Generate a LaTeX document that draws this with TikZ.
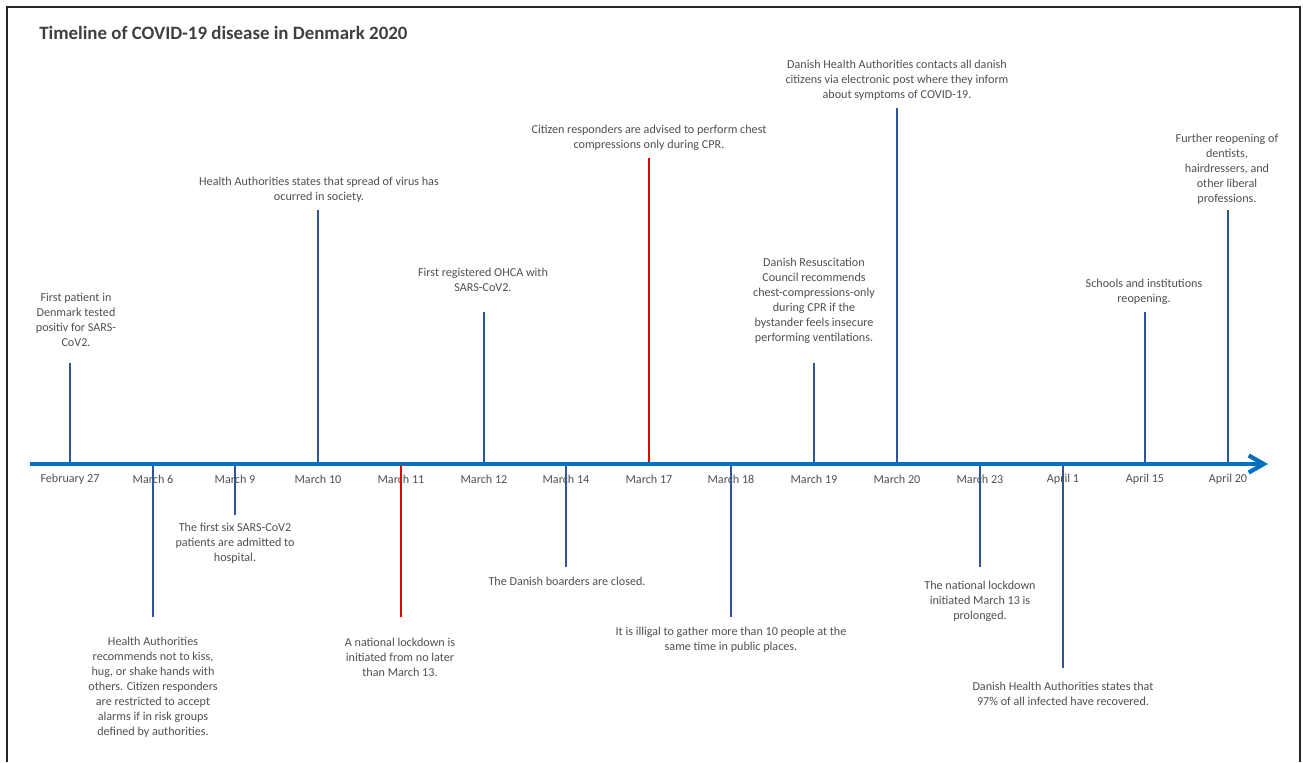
\documentclass[tikz,border=0pt]{standalone}
\usepackage{fontspec}
\setmainfont{Carlito}
\usepackage{xcolor}
\usetikzlibrary{arrows.meta}
\definecolor{axisblue}{RGB}{0,112,192}
\definecolor{stemblue}{RGB}{47,85,151}
\definecolor{txtgray}{RGB}{80,80,80}
\definecolor{titlegray}{RGB}{64,64,64}
\definecolor{framegray}{RGB}{38,38,38}
\tikzset{
  evt/.style={align=center, text=txtgray, inner sep=0pt, font=\fontsize{6.9}{8.5}\selectfont},
  datelbl/.style={text=txtgray, inner sep=0pt, font=\fontsize{6.9}{8}\selectfont},
  stem/.style={stemblue, line width=1.1pt},
  redstem/.style={red!90!black, line width=1.1pt},
}

\begin{document}
\begin{tikzpicture}[x=0.02cm,y=-0.02cm]
\useasboundingbox (0,0) rectangle (1303,762);
\fill[white] (0,0) rectangle (1303,762);
\draw[framegray, line width=1.3pt] (7,762) -- (7,7) -- (1300,7) -- (1300,762);
\node[anchor=west, text=titlegray, inner sep=0pt, font=\fontsize{10.75}{12}\bfseries\selectfont] (title) at (39,33) {Timeline of COVID-19 disease in Denmark 2020};

% dates under the axis
\node[datelbl] (feb27d) at (70,479) {February 27};
\node[datelbl] (mar6d) at (153,479) {March 6};
\node[datelbl] (mar9d) at (235,479) {March 9};
\node[datelbl] (mar10d) at (318,479) {March 10};
\node[datelbl] (mar11d) at (401,479) {March 11};
\node[datelbl] (mar12d) at (484,479) {March 12};
\node[datelbl] (mar14d) at (566,479) {March 14};
\node[datelbl] (mar17d) at (649,479) {March 17};
\node[datelbl] (mar18d) at (731,479) {March 18};
\node[datelbl] (mar19d) at (814,479) {March 19};
\node[datelbl] (mar20d) at (897,479) {March 20};
\node[datelbl] (mar23d) at (980,479) {March 23};
\node[datelbl] (apr1d) at (1063,479) {April 1};
\node[datelbl] (apr15d) at (1145,479) {April 15};
\node[datelbl] (apr20d) at (1228,479) {April 20};

% stems
\coordinate (feb27) at (70,464);  \coordinate (feb27e) at (70,363);
\coordinate (mar6) at (153,464);  \coordinate (mar6e) at (153,617);
\coordinate (mar9) at (235,464);  \coordinate (mar9e) at (235,515);
\coordinate (mar10) at (318,464); \coordinate (mar10e) at (318,210);
\coordinate (mar11) at (401,464); \coordinate (mar11e) at (401,617);
\coordinate (mar12) at (484,464); \coordinate (mar12e) at (484,312);
\coordinate (mar14) at (566,464); \coordinate (mar14e) at (566,567);
\coordinate (mar17) at (649,464); \coordinate (mar17e) at (649,158);
\coordinate (mar18) at (731,464); \coordinate (mar18e) at (731,617);
\coordinate (mar19) at (814,464); \coordinate (mar19e) at (814,363);
\coordinate (mar20) at (897,464); \coordinate (mar20e) at (897,108);
\coordinate (mar23) at (980,464); \coordinate (mar23e) at (980,567);
\coordinate (apr1) at (1063,464); \coordinate (apr1e) at (1063,668);
\coordinate (apr15) at (1145,464); \coordinate (apr15e) at (1145,312);
\coordinate (apr20) at (1228,464); \coordinate (apr20e) at (1228,210);
\draw[stem] (feb27) -- (feb27e);
\draw[stem] (mar6) -- (mar6e);
\draw[stem] (mar9) -- (mar9e);
\draw[stem] (mar10) -- (mar10e);
\draw[redstem] (mar11) -- (mar11e);
\draw[stem] (mar12) -- (mar12e);
\draw[stem] (mar14) -- (mar14e);
\draw[redstem] (mar17) -- (mar17e);
\draw[stem] (mar18) -- (mar18e);
\draw[stem] (mar19) -- (mar19e);
\draw[stem] (mar20) -- (mar20e);
\draw[stem] (mar23) -- (mar23e);
\draw[stem] (apr1) -- (apr1e);
\draw[stem] (apr15) -- (apr15e);
\draw[stem] (apr20) -- (apr20e);

% the axis
\coordinate (axstart) at (30,464);
\coordinate (axend) at (1268,464);
\draw[axisblue, line width=2.4pt, -{Straight Barb[length=0.3cm,width=0.34cm]}] (axstart) -- (axend);

% events
\node[evt] (feb27t) at (76,320) {First patient in\\Denmark tested\\positiv for SARS-\\CoV2.};
\node[evt] (mar6t) at (153,687) {Health Authorities\\recommends not to kiss,\\hug, or shake hands with\\others. Citizen responders\\are restricted to accept\\alarms if in risk groups\\defined by authorities.};
\node[evt] (mar9t) at (235,543) {The first six SARS-CoV2\\patients are admitted to\\hospital.};
\node[evt] (mar10t) at (319,190) {Health Authorities states that spread of virus has\\ocurred in society.};
\node[evt] (mar11t) at (400,657) {A national lockdown is\\initiated from no later\\than March 13.};
\node[evt] (mar12t) at (483,280) {First registered OHCA with\\SARS-CoV2.};
\node[evt] (mar14t) at (567,581) {The Danish boarders are closed.};
\node[evt] (mar17t) at (649,138) {Citizen responders are advised to perform chest\\compressions only during CPR.};
\node[evt] (mar18t) at (731,640) {It is illigal to gather more than 10 people at the\\same time in public places.};
\node[evt] (mar19t) at (814,301) {Danish Resuscitation\\Council recommends\\chest-compressions-only\\during CPR if the\\bystander feels insecure\\performing ventilations.};
\node[evt] (mar20t) at (897,80) {Danish Health Authorities contacts all danish\\citizens via electronic post where they inform\\about symptoms of COVID-19.};
\node[evt] (mar23t) at (980,601) {The national lockdown\\initiated March 13 is\\prolonged.};
\node[evt] (apr1t) at (1063,694) {Danish Health Authorities states that\\97\% of all infected have recovered.};
\node[evt] (apr15t) at (1144,292) {Schools and institutions\\reopening.};
\node[evt] (apr20t) at (1227,169) {Further reopening of\\dentists,\\hairdressers, and\\other liberal\\professions.};
\end{tikzpicture}
\end{document}
